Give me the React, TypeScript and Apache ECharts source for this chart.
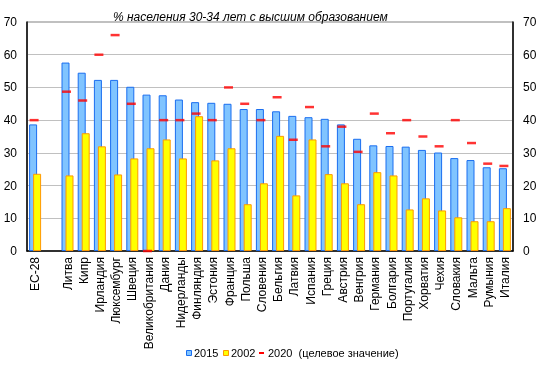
import React, { useEffect, useRef } from "react";
import * as echarts from "echarts";

const categories = [
  "ЕС-28", "", "Литва", "Кипр", "Ирландия", "Люксембург", "Швеция", "Великобритания",
  "Дания", "Нидерланды", "Финляндия", "Эстония", "Франция", "Польша", "Словения",
  "Бельгия", "Латвия", "Испания", "Греция", "Австрия", "Венгрия", "Германия",
  "Болгария", "Португалия", "Хорватия", "Чехия", "Словакия", "Мальта", "Румыния", "Италия",
];

const values2015 = [
  38.7, null, 57.6, 54.5, 52.3, 52.3, 50.2, 47.8, 47.6, 46.3, 45.5, 45.3, 45.0, 43.4, 43.4,
  42.7, 41.3, 40.9, 40.4, 38.7, 34.3, 32.3, 32.1, 31.9, 30.9, 30.1, 28.4, 27.8, 25.6, 25.3,
];

const values2002 = [
  23.6, null, 23.1, 36.0, 32.0, 23.4, 28.3, 31.4, 34.1, 28.3, 41.2, 27.7, 31.4, 14.3, 20.7,
  35.2, 17.0, 34.1, 23.5, 20.7, 14.3, 24.1, 23.1, 12.7, 16.1, 12.4, 10.3, 9.1, 9.1, 13.1,
];

const target2020 = [
  40, null, 48.7, 46, 60, 66, 45, 0, 40, 40, 42, 40, 50, 45, 40,
  47, 34, 44, 32, 38, 30.3, 42, 36, 40, 35, 32, 40, 33, 26.7, 26,
];

const seriesNames = ["2015", "2002", "2020  (целевое значение)"];

const yTicks = { min: 0, max: 70, interval: 10 };

export default function App() {
  const ref = useRef<HTMLDivElement>(null);
  useEffect(() => {
    if (!ref.current) return;
    const chart = echarts.init(ref.current, undefined, { renderer: "svg" });
    const font = "Liberation Sans, Arial, sans-serif";
    const blue = { fill: "#80C4FF", stroke: "#1A6EF0" };
    const yellow = { fill: "#FFFF00", stroke: "#FF9900" };
    const legendText = (x: number, text: string) => ({
      type: "text",
      x,
      y: 353,
      style: { text, fontSize: 11, fill: "#000", fontFamily: font, verticalAlign: "middle" },
    });
    chart.setOption({
      animation: false,
      textStyle: { fontFamily: font },
      title: {
        text: "% населения 30-34 лет с высшим образованием",
        left: 108,
        top: 6,
        textStyle: { fontSize: 12, fontStyle: "italic", fontWeight: "normal", color: "#000", fontFamily: font },
      },
      graphic: [
        { type: "rect", shape: { x: 186.5, y: 350.5, width: 5, height: 5 }, style: { fill: blue.fill, stroke: blue.stroke, lineWidth: 1 } },
        legendText(194, seriesNames[0]),
        { type: "rect", shape: { x: 223.5, y: 350.5, width: 5, height: 5 }, style: { fill: yellow.fill, stroke: yellow.stroke, lineWidth: 1 } },
        legendText(231, seriesNames[1]),
        { type: "rect", shape: { x: 259, y: 352, width: 5, height: 2 }, style: { fill: "#FF0000" } },
        legendText(268, seriesNames[2]),
      ],
      grid: {
        left: 27,
        right: 29,
        top: 22,
        bottom: 125,
        show: true,
        borderColor: "#808080",
        borderWidth: 1,
      },
      xAxis: {
        type: "category",
        data: categories,
        axisLine: { lineStyle: { color: "#000", width: 1.5 } },
        axisTick: { show: false },
        axisLabel: { rotate: 90, interval: 0, fontSize: 12, color: "#000", margin: 6, fontFamily: font },
      },
      yAxis: [
        {
          type: "value",
          ...yTicks,
          axisLine: { show: true, lineStyle: { color: "#000", width: 1.5 } },
          axisTick: { show: false },
          axisLabel: { fontSize: 12, color: "#000", margin: 10, fontFamily: font },
          splitLine: { lineStyle: { color: "#C0C0C0" } },
        },
        {
          type: "value",
          ...yTicks,
          position: "right",
          axisLine: { show: true, lineStyle: { color: "#000", width: 1.5 } },
          axisTick: { show: false },
          axisLabel: { fontSize: 12, color: "#000", margin: 10, fontFamily: font },
          splitLine: { show: false },
        },
      ],
      series: [
        {
          name: seriesNames[0],
          type: "bar",
          data: values2015,
          barWidth: 8,
          barGap: "-50%",
          itemStyle: { color: blue.fill, borderColor: blue.stroke, borderWidth: 1 },
        },
        {
          name: seriesNames[1],
          type: "bar",
          data: values2002,
          barWidth: 8,
          itemStyle: { color: yellow.fill, borderColor: yellow.stroke, borderWidth: 1 },
        },
        {
          name: seriesNames[2],
          type: "scatter",
          data: target2020,
          symbol: "rect",
          symbolSize: [9, 2.5],
          symbolOffset: [-1, 0],
          itemStyle: { color: "#FF0000" },
          z: 5,
        },
      ],
    });
    return () => chart.dispose();
  }, []);
  return <div ref={ref} style={{ position: "fixed", left: 0, top: 0, width: 542, height: 376 }} />;
}
